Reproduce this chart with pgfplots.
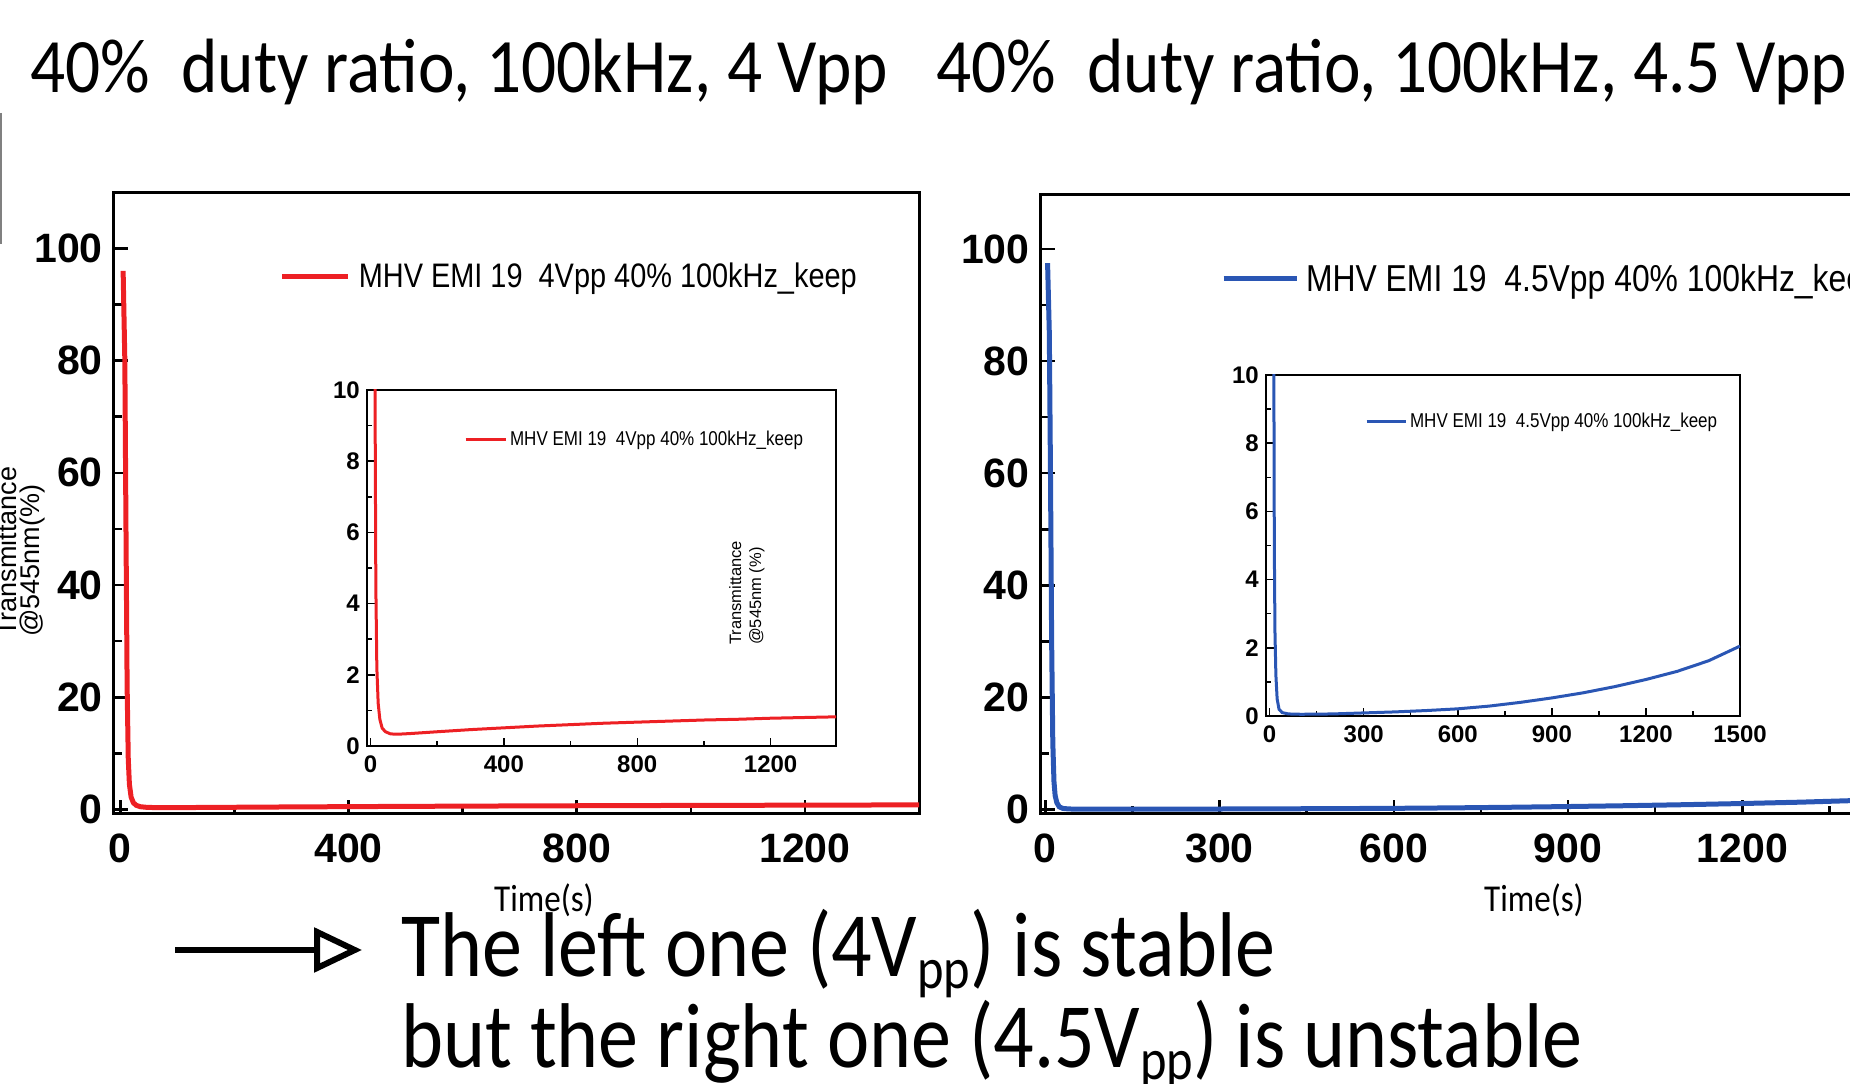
\documentclass[border=0pt]{standalone}
\usepackage{fontspec}
\usepackage{pgfplots}
\usepackage{pgfplotstable}
\pgfplotsset{compat=1.18}
\usetikzlibrary{arrows.meta}
\newfontfamily\arialf{Liberation Sans}
\newfontfamily\arialn[FakeStretch=0.85]{Liberation Sans}
\newfontfamily\calt[FakeStretch=0.9]{Carlito}
\newfontfamily\calb[FakeStretch=0.87]{Carlito}
\definecolor{myred}{RGB}{237,32,36}
\definecolor{myblue}{RGB}{42,86,180}
\newcommand\sub[1]{\raisebox{-0.12em}{\fontsize{58}{58}\selectfont #1}}

\pgfplotstableread{
x y
5 96
8 80
10 50
12 22
14 9
16 4.5
19 2.2
23 1.2
28 0.75
35 0.5
45 0.4
60 0.34
80 0.33
120 0.35
200 0.4
300 0.46
400 0.51
500 0.56
600 0.6
700 0.64
800 0.67
900 0.7
1000 0.73
1100 0.75
1200 0.78
1300 0.8
1400 0.82
}\redtab

\pgfplotstableread{
x y
4 97.5
7 85
9 60
11 30
13 12
15 5
17 2.5
20 1.2
24 0.5
30 0.2
40 0.1
60 0.06
100 0.05
200 0.06
300 0.09
400 0.12
500 0.16
600 0.21
700 0.29
800 0.4
900 0.53
1000 0.68
1100 0.86
1200 1.07
1300 1.31
1400 1.62
1500 2.05
}\bluetab

\pgfplotsset{
  common/.style={
    scale only axis, anchor=south west,
    tick align=inside, xtick pos=bottom, ytick pos=left,
    /pgf/number format/assume math mode=true,
    /pgf/number format/1000 sep={},
    tick style={black},
    xticklabel style={anchor=north, inner sep=0pt},
    yticklabel style={anchor=east, inner sep=0pt},
  },
  mainax/.style={common,
    major tick length=14pt, minor tick length=8pt,
    every major tick/.style={line width=2.5pt},
    every minor tick/.style={line width=2.5pt},
    axis line style={line width=3pt},
    tick label style={font=\arialf\bfseries\fontsize{41}{49}\selectfont},
    xticklabel style={yshift=-20pt},
    yticklabel style={xshift=-11pt},
    ymin=-0.8,
    ytick={0,20,...,100}, minor ytick={10,30,50,70,90},
  },
  insetax/.style={common,
    major tick length=8pt, minor tick length=5pt,
    every major tick/.style={line width=1.5pt},
    every minor tick/.style={line width=1.5pt},
    axis line style={line width=1.8pt},
    tick label style={font=\arialf\bfseries\fontsize{24}{28}\selectfont},
    xticklabel style={yshift=-10pt},
    yticklabel style={xshift=-7pt},
    ymin=0, ymax=10,
    ytick={0,2,...,10}, minor ytick={1,3,5,7,9},
  },
}

\begin{document}
\begin{tikzpicture}
\useasboundingbox (0pt,0pt) rectangle (1850pt,1084pt);
\clip (0pt,0pt) rectangle (1850pt,1084pt);

% titles
\node[anchor=base west, inner sep=0pt, font=\calt\fontsize{77}{90}\selectfont] at (30pt,991.3pt) {40\%\ \ duty ratio, 100kHz, 4 Vpp};
\node[anchor=base west, inner sep=0pt, font=\calt\fontsize{77}{90}\selectfont] at (936pt,991.3pt) {40\%\ \ duty ratio, 100kHz, 4.5 Vpp};

% artifact line at left edge
\draw[gray, line width=2pt] (1pt,971pt) -- (1pt,840pt);

% left main
\begin{axis}[mainax,
  at={(114pt,270pt)}, width=805pt, height=621.7pt,
  xmin=-11, xmax=1400, ymax=110,
  xtick={0,400,800,1200}, minor xtick={200,600,1000},
  legend style={at={(0.206,0.865)}, anchor=west, draw=none, fill=none,
    inner sep=0pt, outer sep=0pt, nodes={inner sep=0pt},
    column sep=8pt, font=\arialn\fontsize{34}{40}\selectfont},
  legend image code/.code={\draw[#1] (0pt,0pt) -- (66pt,0pt);},
]
\addplot[myred, line width=5pt] table[x=x,y=y] {\redtab};
\addlegendentry{MHV EMI 19\ \ 4Vpp 40\% 100kHz\_keep}
\end{axis}

% left inset
\begin{axis}[insetax,
  at={(367pt,338pt)}, width=469pt, height=356pt,
  xmin=-10.5, xmax=1396,
  xtick={0,400,800,1200}, minor xtick={200,600,1000},
  legend style={at={(0.207,0.862)}, anchor=west, draw=none, fill=none,
    inner sep=0pt, outer sep=0pt, nodes={inner sep=0pt},
    column sep=3pt, font=\arialn\fontsize{20}{24}\selectfont},
  legend image code/.code={\draw[#1] (0pt,0pt) -- (40pt,0pt);},
]
\addplot[myred, line width=3pt] table[x=x,y=y] {\redtab};
\addlegendentry{MHV EMI 19\ \ 4Vpp 40\% 100kHz\_keep}
\node[rotate=90, align=left, inner sep=0pt, font=\arialf\fontsize{16.5}{20}\selectfont] at (rel axis cs:0.81,0.43) {Transmittance\\@545nm (\%)};
\end{axis}

% right main
\begin{axis}[mainax,
  at={(1040.6pt,270pt)}, width=876pt, height=619.3pt,
  xmin=-8, xmax=1500, ymax=109.7,
  xtick={0,300,...,1200}, minor xtick={150,450,...,1350},
  legend style={at={(0.206,0.865)}, anchor=west, draw=none, fill=none,
    inner sep=0pt, outer sep=0pt, nodes={inner sep=0pt},
    column sep=7pt, font=\arialn\fontsize{37.5}{44}\selectfont},
  legend image code/.code={\draw[#1] (0pt,0pt) -- (73pt,0pt);},
]
\addplot[myblue, line width=5pt] table[x=x,y=y] {\bluetab};
\addlegendentry{MHV EMI 19\ \ 4.5Vpp 40\% 100kHz\_keep}
\end{axis}

% right inset
\begin{axis}[insetax,
  at={(1266pt,368pt)}, width=474pt, height=341pt,
  xmin=-11.5, xmax=1500,
  xtick={0,300,...,1500}, minor xtick={150,450,...,1350},
  legend style={at={(0.209,0.865)}, anchor=west, draw=none, fill=none,
    inner sep=0pt, outer sep=0pt, nodes={inner sep=0pt},
    column sep=3pt, font=\arialn\fontsize{20}{24}\selectfont},
  legend image code/.code={\draw[#1] (0pt,0pt) -- (39pt,0pt);},
]
\addplot[myblue, line width=3pt] table[x=x,y=y] {\bluetab};
\addlegendentry{MHV EMI 19\ \ 4.5Vpp 40\% 100kHz\_keep}
\end{axis}

% y label main left
\node[rotate=90, anchor=south west, align=left, inner sep=0pt, font=\arialf\fontsize{27}{23}\selectfont] at (45pt,447pt) {Transmittance\\@545nm(\%)};

% x labels
\node[anchor=base, inner sep=0pt, font=\calb\fontsize{38}{40}\selectfont] at (544pt,172pt) {Time(s)};
\node[anchor=base, inner sep=0pt, font=\calb\fontsize{38}{40}\selectfont] at (1534pt,172pt) {Time(s)};

% arrow and bottom text
\draw[line width=6pt, -{Triangle[open, length=48pt 0 0, width=44pt 0 0, line width=6pt]}] (175pt,134pt) -- (362pt,134pt);
\node[anchor=base west, inner sep=0pt, font=\calb\fontsize{92}{91}\selectfont] at (401pt,107pt) {The left one (4V\sub{pp}) is stable};
\node[anchor=base west, inner sep=0pt, font=\calb\fontsize{92}{91}\selectfont] at (401pt,16pt) {but the right one (4.5V\sub{pp}) is unstable};
\end{tikzpicture}
\end{document}
